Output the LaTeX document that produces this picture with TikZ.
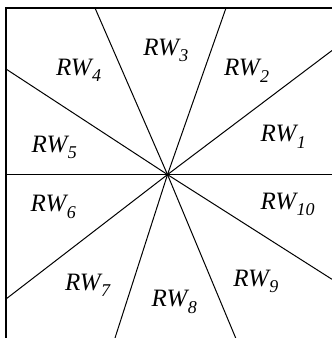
\documentclass[tikz,border=0pt]{standalone}
\usepackage{fontspec}
\setmainfont{Liberation Serif}
\newcommand{\rwlab}[1]{{\fontsize{25bp}{25bp}\selectfont\itshape RW\kern0.5bp\raisebox{-6.5bp}{\fontsize{18bp}{18bp}\selectfont #1}}}
\tikzset{
  ray/.style={line width=1bp, black},
  frame/.style={line width=1.1bp, black},
  lab/.style={anchor=base west, inner sep=0pt, outer sep=0pt}
}
\begin{document}
\begin{tikzpicture}[x=1bp,y=-1bp]
\useasboundingbox (0,0) rectangle (332,338);
% frame
\coordinate (tl) at (6,8);
\coordinate (tr) at (332,8);
\coordinate (bl) at (6,338);
\draw[frame] (tr) -- (tl) -- (bl);
% centre and ray ends
\coordinate (c) at (167.5,174.6);
\coordinate (e0) at (332,174.6);
\coordinate (e1) at (332,50.5);
\coordinate (e2) at (226,8);
\coordinate (e3) at (95,8);
\coordinate (e4) at (6,69);
\coordinate (e5) at (6,174.6);
\coordinate (e6) at (6,299);
\coordinate (e7) at (115,338);
\coordinate (e8) at (235.7,338);
\coordinate (e9) at (332,279.3);
\foreach \i in {0,...,9} {\draw[ray] (c) -- (e\i);}
% labels
\node[lab] (rw1) at (260.7,141.7) {\rwlab{1}};
\node[lab] (rw2) at (224,75.7) {\rwlab{2}};
\node[lab] (rw3) at (143.3,55) {\rwlab{3}};
\node[lab] (rw4) at (56,75) {\rwlab{4}};
\node[lab] (rw5) at (31.7,152.3) {\rwlab{5}};
\node[lab] (rw6) at (30.7,211.7) {\rwlab{6}};
\node[lab] (rw7) at (65,290) {\rwlab{7}};
\node[lab] (rw8) at (151.7,306.7) {\rwlab{8}};
\node[lab] (rw9) at (233.3,286) {\rwlab{9}};
\node[lab] (rw10) at (260.5,209) {\rwlab{10}};
\end{tikzpicture}
\end{document}
